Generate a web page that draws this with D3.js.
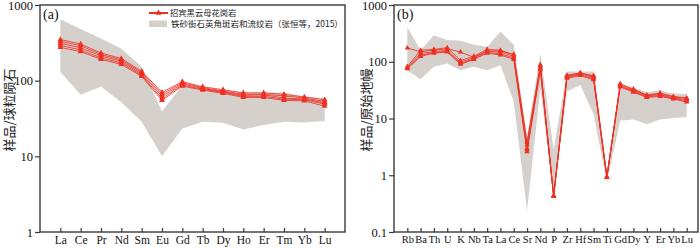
<!DOCTYPE html>
<html><head><meta charset="utf-8">
<script src="https://cdn.jsdelivr.net/npm/d3@7"></script>
<style>
body{margin:0;background:#fff;}
svg{display:block;}
.tick text{font-family:"Liberation Serif","Times New Roman",serif;}
</style></head>
<body><svg id="c" width="700" height="248"></svg>
<script>
// ---------- Panel (a): REE, chondrite normalised ----------
const reeCats = ["La","Ce","Pr","Nd","Sm","Eu","Gd","Tb","Dy","Ho","Er","Tm","Yb","Lu"];
const reeBandUpper = [650,480,360,265,153,39,87,79,76,70,70,70,61,59];
const reeBandLower = [130,65,84,52,28.6,10,23.4,28.6,27.7,22.7,25.9,28.6,28,29.2];
const reeS1 = [350,305,232,196,133,70,97,83,76,69,69,66,61,56];
const reeS2 = [330,290,222,188,128,66,94,81,73,66,66,63,59,53];
const reeS3 = [312,272,212,180,123,62,91,79,71,64,65,59,57,51];
const reeS4 = [292,255,200,172,118,58,88,77,70,62,62,57,56,49];
const reeS5 = [275,242,191,164,114,55,85,75,68,60,60,55,54,46];
const reeTicks = [1,10,100,1000];

// ---------- Panel (b): trace elements, primitive mantle normalised ----------
const teCats = ["Rb","Ba","Th","U","K","Nb","Ta","La","Ce","Sr","Nd","P","Zr","Hf","Sm","Ti","Gd","Dy","Y","Er","Yb","Lu"];
const teBandUpper = [400,160,290,241,235,202,182,340,200,5,140,2.8,67,67,67,1.2,33,35,29,31.6,27.5,27];
const teBandLower = [70,49,82,93,71,82,71,87,20,0.24,34,0.42,30,39,12,0.75,9.1,9.6,7.9,9.6,10.2,10.6];
const teS1 = [175,150,160,170,148,120,155,155,135,3.8,85,0.43,58,63,57,0.92,41,33,26,28,24.5,23];
const teS2 = [82,160,165,177,105,125,165,160,132,3.4,88,0.43,56,64,55,0.92,40,32,25.5,27.5,24,22.5];
const teS3 = [80,140,150,160,98,118,152,148,125,3.0,80,0.43,55,61,53,0.92,38,31,25,26.5,23,21.5];
const teS4 = [77,130,145,152,93,113,145,138,117,2.8,75,0.43,53,59,50,0.92,37,30,24,25.5,22.5,20.5];
const teS5 = [75,124,142,148,90,110,142,132,110,2.6,72,0.43,51,57,48,0.92,36,29,23.5,24.5,22,19.5];
const teTicks = [0.1,1,10,100,1000];

const legendLine = "招宾黑云母花岗岩";
const legendBand = "铁砂街石英角斑岩和流纹岩（张恒等，2015）";

const RED = "#ee3124", GRAY = "#d6d0cc", AX = "#3a3a3a";
const svg = d3.select("#c");

function panel(o){
  const g = svg.append("g");
  const x = d3.scalePoint().domain(o.cats).range([o.x0, o.xr]).padding(1);
  const y = d3.scaleLog().domain(o.dom).range([o.y1, o.y0]);
  // band
  const band = o.cats.map((c,i)=>({c, lo:o.lower[i], hi:o.upper[i]}));
  g.append("path").datum(band)
    .attr("fill", GRAY)
    .attr("d", d3.area().x(d=>x(d.c)).y0(d=>y(d.lo)).y1(d=>y(d.hi)));
  // sample lines
  const tri = d3.symbol().type(d3.symbolTriangle).size(o.msize);
  o.series.forEach(s=>{
    const pts = o.cats.map((c,i)=>({c, v:s[i]}));
    g.append("path").datum(pts)
      .attr("fill","none").attr("stroke",RED).attr("stroke-width",1).attr("stroke-opacity",0.85)
      .attr("d", d3.line().x(d=>x(d.c)).y(d=>y(d.v)));
    g.selectAll(null).data(pts).enter().append("path")
      .attr("d", tri).attr("fill",RED)
      .attr("transform", d=>`translate(${x(d.c)},${y(d.v)})`);
  });
  // frame
  g.append("rect").attr("x",o.x0).attr("y",o.y0)
    .attr("width",o.x1-o.x0).attr("height",o.y1-o.y0)
    .attr("fill","none").attr("stroke",AX).attr("stroke-width",1.4);
  // y axis
  const ya = g.append("g").attr("transform",`translate(${o.x0},0)`)
    .call(d3.axisLeft(y).tickValues(o.ticks).tickFormat(d=>String(d)).tickSize(5).tickPadding(2));
  ya.select(".domain").remove();
  ya.selectAll(".tick line").attr("stroke",AX).attr("stroke-width",1.2);
  ya.selectAll(".tick text").attr("font-size",12.5).attr("fill","#111");
  // x axis (ticks inward)
  const xa = g.append("g").attr("transform",`translate(0,${o.y1})`)
    .call(d3.axisBottom(x).tickSize(-4).tickPadding(4));
  xa.select(".domain").remove();
  xa.selectAll(".tick line").attr("stroke",AX).attr("stroke-width",1.2);
  xa.selectAll(".tick text").attr("font-size",o.xfs).attr("fill","#111");
  // panel label
  g.append("text").attr("x",o.x0+3).attr("y",o.y0+14)
    .attr("font-family","Liberation Serif, serif").attr("font-size",14).attr("fill","#111")
    .text(o.label);
  // y title
  g.append("text").attr("transform",`translate(${o.tx},${o.ty}) rotate(-90)`)
    .attr("text-anchor","middle").attr("dominant-baseline","central")
    .attr("font-family","Noto Sans CJK SC").attr("font-size",13).attr("fill","#222")
    .text(o.title);
  return {g,x,y};
}

panel({cats:reeCats, x0:40, x1:345, xr:345, y0:5, y1:232, dom:[1,1000], ticks:reeTicks,
  upper:reeBandUpper, lower:reeBandLower, series:[reeS1,reeS2,reeS3,reeS4,reeS5],
  msize:14, xfs:11.5, label:"(a)", title:"样品/球粒陨石", tx:8.5, ty:110});

panel({cats:teCats, x0:394, x1:698, xr:700, y0:5, y1:232, dom:[0.1,1000], ticks:teTicks,
  upper:teBandUpper, lower:teBandLower, series:[teS1,teS2,teS3,teS4,teS5],
  msize:12, xfs:10.5, label:"(b)", title:"样品/原始地幔", tx:365, ty:110});

// legend (panel a)
const lg = svg.append("g");
const lx = d3.scaleLinear().domain([0,1]).range([149,168]);
lg.append("line").attr("x1",lx(0)).attr("x2",lx(1)).attr("y1",13).attr("y2",13)
  .attr("stroke",RED).attr("stroke-width",2);
lg.append("path").attr("d",d3.symbol().type(d3.symbolTriangle).size(16))
  .attr("fill",RED).attr("transform",`translate(${lx(0.5)},13)`);
lg.append("text").attr("x",170).attr("y",16).attr("font-family","Noto Sans CJK SC")
  .attr("font-size",8.3).attr("fill","#222").text(legendLine);
lg.append("rect").attr("x",149).attr("y",20.5).attr("width",18).attr("height",6.5).attr("fill",GRAY);
lg.append("text").attr("x",171).attr("y",27).attr("font-family","Noto Sans CJK SC")
  .attr("font-size",8.5).attr("fill","#222").text(legendBand);
</script></body></html>
